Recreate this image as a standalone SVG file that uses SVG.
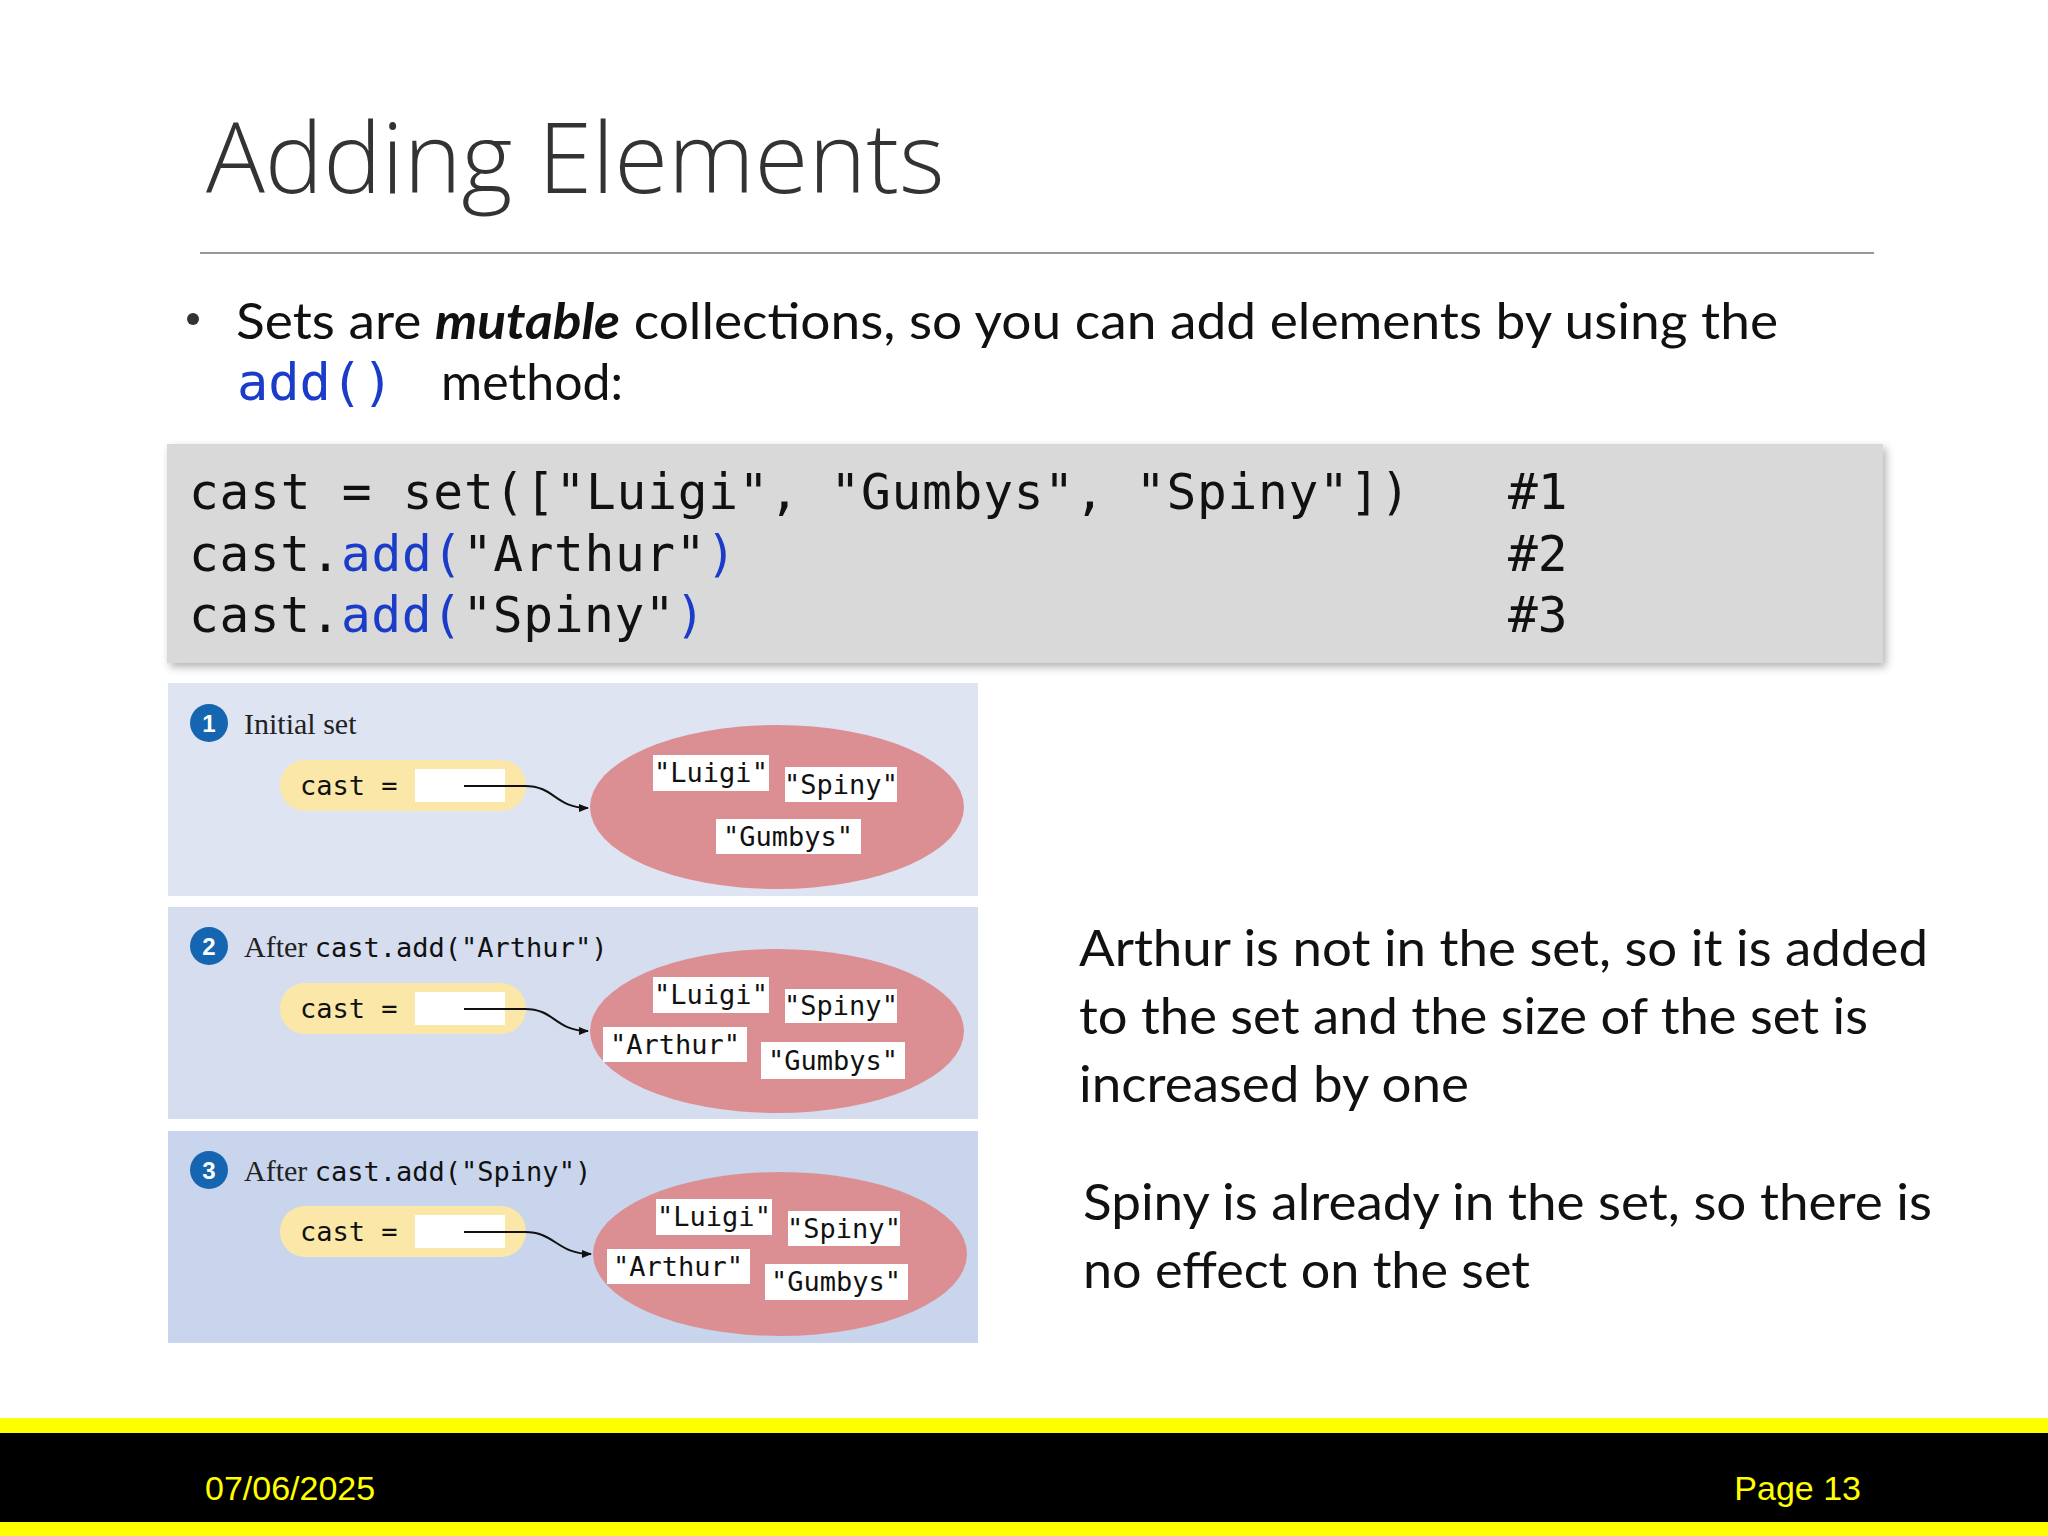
<svg xmlns="http://www.w3.org/2000/svg" width="2048" height="1536" viewBox="0 0 2048 1536">
<defs>
<style>
.body{font-family:Lato,"Open Sans",sans-serif;fill:#111}
.mono{font-family:"DejaVu Sans Mono",monospace}
.blue{fill:#1a3cc8}
.lbl{font-family:"DejaVu Sans Mono",monospace;font-size:27px;fill:#111}
.cap{font-family:"Liberation Serif",serif;font-size:30px;fill:#222}
.box{fill:#fff}
</style>
<marker id="ah" markerWidth="10" markerHeight="8" refX="9" refY="4" orient="auto" markerUnits="userSpaceOnUse"><path d="M0,0L10,4L0,8Z" fill="#111"/></marker>
<filter id="sh" x="-5%" y="-10%" width="110%" height="130%"><feDropShadow dx="3" dy="4" stdDeviation="4" flood-opacity="0.3"/></filter>
<g id="base">
<rect x="280" y="760" width="246" height="51" rx="25" fill="#fbe8a8"/>
<text x="300" y="795" class="lbl">cast =</text>
<rect x="415" y="769" width="90" height="33" fill="#fff"/>
</g>
</defs>
<rect width="2048" height="1536" fill="#fff"/>
<text x="206" y="193" font-family="'Open Sans',sans-serif" font-weight="300" font-size="98" fill="#333">Adding Elements</text>
<line x1="200" y1="253" x2="1874" y2="253" stroke="#999" stroke-width="2"/>
<circle cx="193" cy="319" r="6" fill="#333"/>
<text x="236" y="339" class="body" font-size="50" textLength="1542" lengthAdjust="spacingAndGlyphs" fill="#333">Sets are <tspan font-weight="bold" font-style="italic">mutable</tspan> collections, so you can add elements by using the</text>
<text x="237" y="400" class="mono blue" font-size="52">add()</text>
<text x="441" y="400" class="body" font-size="50">method:</text>
<g id="code">
<rect x="167" y="444" width="1716" height="219" fill="#d9d9d9" filter="url(#sh)"/>
<g class="mono" font-size="49.5" fill="#111">
<text x="189" y="509" xml:space="preserve" textLength="1221" lengthAdjust="spacing">cast = set(["Luigi", "Gumbys", "Spiny"])</text>
<text x="189" y="571" textLength="547" lengthAdjust="spacing">cast.<tspan class="blue">add(</tspan>"Arthur"<tspan class="blue">)</tspan></text>
<text x="189" y="632" textLength="516" lengthAdjust="spacing">cast.<tspan class="blue">add(</tspan>"Spiny"<tspan class="blue">)</tspan></text>
<text x="1508" y="509">#1</text>
<text x="1508" y="571">#2</text>
<text x="1508" y="632">#3</text>
</g>
</g>
<g id="panel1">
<rect x="168" y="683" width="810" height="213" fill="#dfe4f2"/>
<circle cx="209" cy="723" r="19" fill="#1565b0"/>
<text x="209" y="732" text-anchor="middle" font-family="'Liberation Sans',sans-serif" font-weight="bold" font-size="24" fill="#fff">1</text>
<text x="244" y="734" class="cap">Initial set</text>
<use href="#base"/>
<ellipse cx="777" cy="807" rx="187" ry="82" fill="#dc8f93"/>
<rect x="653" y="755" width="116" height="36" class="box"/><text x="711" y="782" text-anchor="middle" class="lbl">"Luigi"</text>
<rect x="785" y="767" width="112" height="35" class="box"/><text x="841" y="794" text-anchor="middle" class="lbl">"Spiny"</text>
<rect x="716" y="819" width="145" height="35" class="box"/><text x="788" y="846" text-anchor="middle" class="lbl">"Gumbys"</text>
</g>
<g id="panel2">
<rect x="168" y="907" width="810" height="212" fill="#d5ddef"/>
<circle cx="209" cy="946" r="19" fill="#1565b0"/>
<text x="209" y="955" text-anchor="middle" font-family="'Liberation Sans',sans-serif" font-weight="bold" font-size="24" fill="#fff">2</text>
<text x="244" y="957" class="cap">After <tspan class="lbl">cast.add("Arthur")</tspan></text>
<use href="#base" y="223"/>
<ellipse cx="777" cy="1031" rx="187" ry="82" fill="#dc8f93"/>
<rect x="653" y="977" width="116" height="36" class="box"/><text x="711" y="1004" text-anchor="middle" class="lbl">"Luigi"</text>
<rect x="785" y="989" width="112" height="34" class="box"/><text x="841" y="1015" text-anchor="middle" class="lbl">"Spiny"</text>
<rect x="603" y="1027" width="144" height="35" class="box"/><text x="675" y="1054" text-anchor="middle" class="lbl">"Arthur"</text>
<rect x="761" y="1042" width="144" height="37" class="box"/><text x="833" y="1070" text-anchor="middle" class="lbl">"Gumbys"</text>
</g>
<g id="panel3">
<rect x="168" y="1131" width="810" height="212" fill="#c8d5ec"/>
<circle cx="209" cy="1170" r="19" fill="#1565b0"/>
<text x="209" y="1179" text-anchor="middle" font-family="'Liberation Sans',sans-serif" font-weight="bold" font-size="24" fill="#fff">3</text>
<text x="244" y="1181" class="cap">After <tspan class="lbl">cast.add("Spiny")</tspan></text>
<use href="#base" y="446"/>
<ellipse cx="780" cy="1254" rx="187" ry="82" fill="#dc8f93"/>
<rect x="656" y="1199" width="116" height="36" class="box"/><text x="714" y="1226" text-anchor="middle" class="lbl">"Luigi"</text>
<rect x="788" y="1211" width="112" height="35" class="box"/><text x="844" y="1238" text-anchor="middle" class="lbl">"Spiny"</text>
<rect x="607" y="1249" width="143" height="35" class="box"/><text x="678" y="1276" text-anchor="middle" class="lbl">"Arthur"</text>
<rect x="765" y="1264" width="143" height="36" class="box"/><text x="836" y="1291" text-anchor="middle" class="lbl">"Gumbys"</text>
</g>
<g id="connectors" fill="none" stroke="#111" stroke-width="2" marker-end="url(#ah)">
<path d="M464,786 L525,786 C555,786 555,808 588,808"/>
<path d="M464,1009 L525,1009 C555,1009 555,1031 588,1031"/>
<path d="M464,1232 L525,1232 C555,1232 557,1254 591,1254"/>
</g>
<g class="body" font-size="50">
<text x="1079" y="966" textLength="849" lengthAdjust="spacingAndGlyphs">Arthur is not in the set, so it is added</text>
<text x="1079" y="1034" textLength="789" lengthAdjust="spacingAndGlyphs">to the set and the size of the set is</text>
<text x="1079" y="1102" textLength="390" lengthAdjust="spacingAndGlyphs">increased by one</text>
<text x="1083" y="1220" textLength="849" lengthAdjust="spacingAndGlyphs">Spiny is already in the set, so there is</text>
<text x="1083" y="1288" textLength="447" lengthAdjust="spacingAndGlyphs">no effect on the set</text>
</g>
<g id="footer">
<rect x="0" y="1418" width="2048" height="118" fill="#ffff00"/>
<rect x="0" y="1433" width="2048" height="89" fill="#000"/>
<text x="205" y="1500" font-family="'Liberation Sans',sans-serif" font-size="34" fill="#ffff00">07/06/2025</text>
<text x="1861" y="1500" text-anchor="end" font-family="'Liberation Sans',sans-serif" font-size="34" fill="#ffff00">Page 13</text>
</g>
</svg>
